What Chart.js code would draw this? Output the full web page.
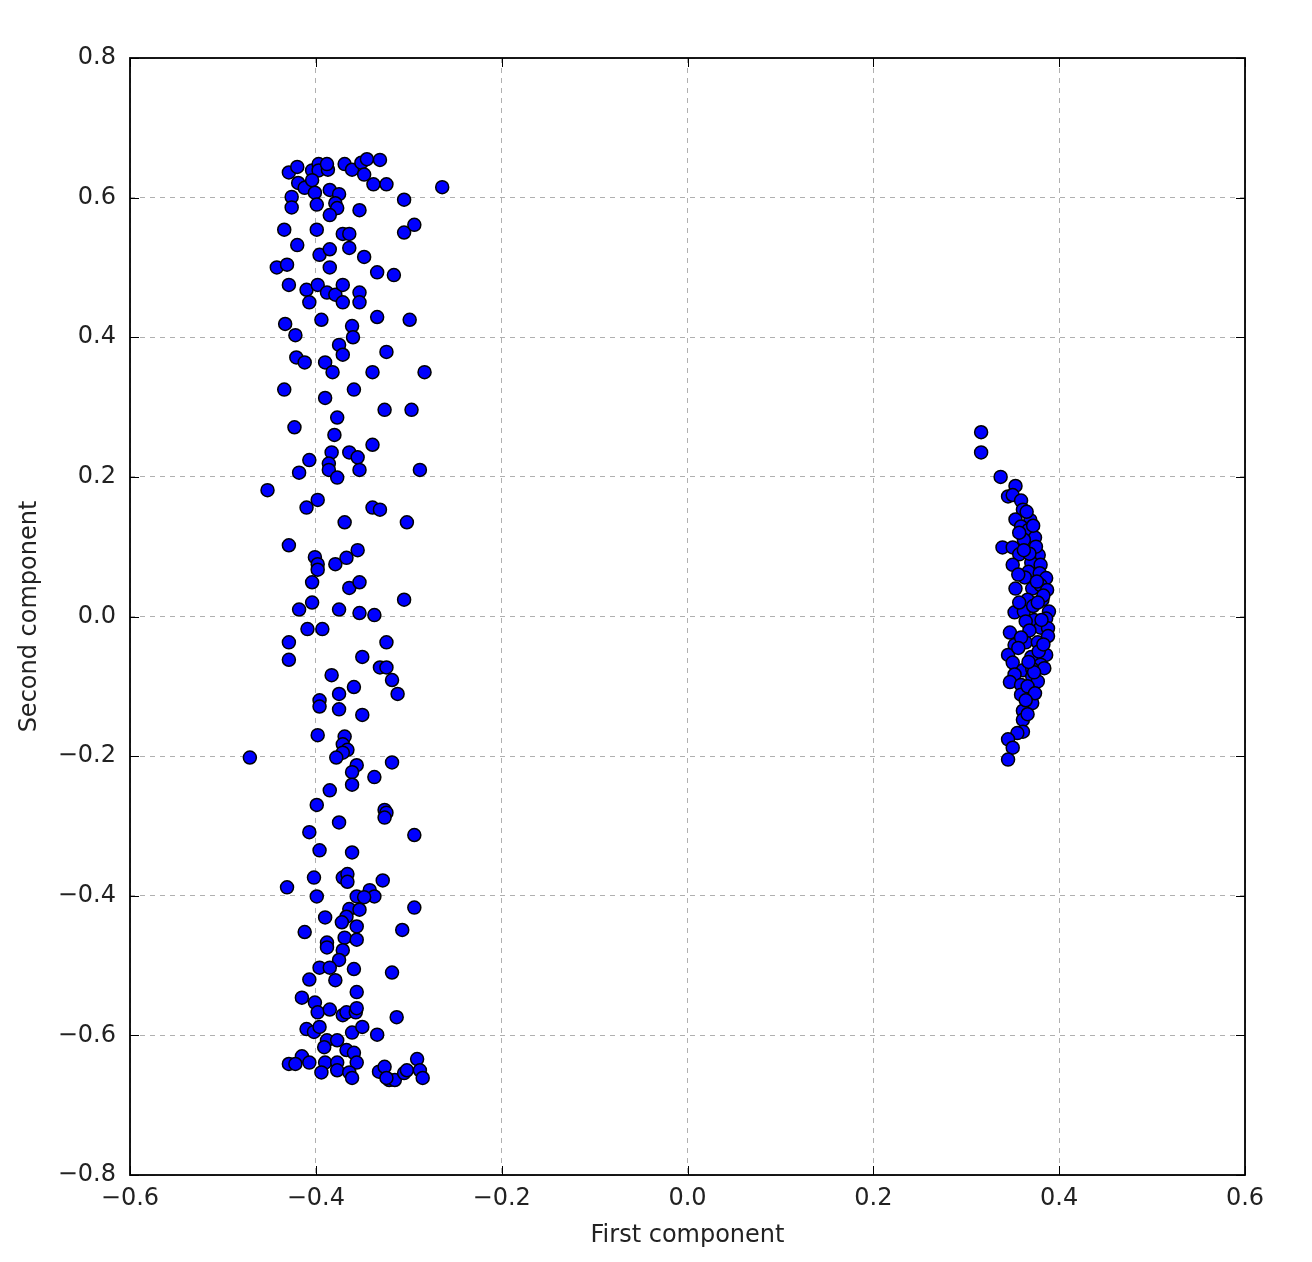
<!DOCTYPE html>
<html>
<head>
<meta charset="utf-8">
<script src="https://cdn.jsdelivr.net/npm/chart.js@4/dist/chart.umd.min.js"></script>
<style>
  html, body { margin: 0; padding: 0; background: #fff; }
  #wrap { width: 1312px; height: 1262px; }
</style>
</head>
<body>
<div id="wrap"><canvas id="c" width="1312" height="1262"></canvas></div>
<script>
// [first component, second component]
const leftCluster = [
  [-0.429,0.636],[-0.420,0.644],[-0.404,0.639],[-0.397,0.648],[-0.397,0.639],[-0.387,0.640],[-0.388,0.648],
  [-0.369,0.648],[-0.361,0.640],[-0.351,0.650],[-0.345,0.655],[-0.331,0.654],[-0.348,0.633],[-0.338,0.619],
  [-0.324,0.619],[-0.264,0.615],[-0.419,0.621],[-0.412,0.614],[-0.404,0.625],[-0.401,0.607],[-0.385,0.611],
  [-0.375,0.605],[-0.426,0.601],[-0.426,0.586],[-0.399,0.590],[-0.379,0.592],[-0.377,0.585],[-0.385,0.575],
  [-0.353,0.582],[-0.305,0.597],[-0.434,0.554],[-0.399,0.554],[-0.371,0.548],[-0.364,0.548],[-0.305,0.550],
  [-0.294,0.561],[-0.420,0.532],[-0.396,0.518],[-0.385,0.526],[-0.364,0.528],[-0.348,0.515],[-0.442,0.500],
  [-0.431,0.504],[-0.385,0.500],[-0.334,0.493],[-0.316,0.489],[-0.429,0.475],[-0.410,0.468],[-0.398,0.475],
  [-0.388,0.464],[-0.379,0.461],[-0.371,0.475],[-0.353,0.464],[-0.407,0.450],[-0.371,0.450],[-0.353,0.450],
  [-0.433,0.419],[-0.394,0.425],[-0.361,0.416],[-0.334,0.429],[-0.299,0.425],
  [-0.422,0.403],[-0.360,0.400],[-0.375,0.389],[-0.371,0.375],[-0.324,0.379],[-0.421,0.371],[-0.412,0.364],
  [-0.390,0.364],[-0.382,0.350],[-0.339,0.350],[-0.283,0.350],[-0.434,0.325],[-0.390,0.313],[-0.359,0.325],
  [-0.326,0.296],[-0.297,0.296],[-0.377,0.285],[-0.423,0.271],[-0.380,0.260],[-0.339,0.246],[-0.383,0.235],
  [-0.364,0.235],[-0.355,0.228],[-0.407,0.224],[-0.386,0.219],[-0.386,0.210],[-0.353,0.210],[-0.377,0.199],
  [-0.418,0.206],[-0.288,0.210],[-0.452,0.181],[-0.398,0.167],[-0.410,0.156],[-0.339,0.156],[-0.331,0.153],
  [-0.369,0.135],[-0.302,0.135],
  [-0.429,0.102],[-0.401,0.085],[-0.398,0.075],[-0.398,0.067],[-0.379,0.075],[-0.367,0.084],[-0.355,0.095],
  [-0.404,0.049],[-0.364,0.041],[-0.353,0.049],[-0.305,0.024],[-0.418,0.010],[-0.404,0.020],[-0.375,0.010],
  [-0.353,0.005],[-0.337,0.002],[-0.409,-0.018],[-0.393,-0.018],[-0.429,-0.037],[-0.429,-0.062],[-0.324,-0.037],
  [-0.350,-0.058],[-0.331,-0.073],[-0.324,-0.073],[-0.318,-0.091],[-0.383,-0.084],[-0.359,-0.101],[-0.375,-0.111],
  [-0.312,-0.111],[-0.396,-0.120],[-0.396,-0.129],[-0.375,-0.133],
  [-0.350,-0.141],[-0.398,-0.170],[-0.369,-0.172],[-0.371,-0.183],[-0.366,-0.191],[-0.371,-0.195],[-0.378,-0.202],
  [-0.471,-0.202],[-0.356,-0.213],[-0.361,-0.223],[-0.318,-0.209],[-0.337,-0.230],[-0.361,-0.241],[-0.385,-0.249],
  [-0.399,-0.270],[-0.326,-0.277],[-0.324,-0.281],[-0.326,-0.288],[-0.375,-0.295],[-0.294,-0.313],[-0.407,-0.309],
  [-0.396,-0.335],[-0.361,-0.338],[-0.402,-0.374],[-0.371,-0.374],[-0.366,-0.369],[-0.366,-0.380],[-0.328,-0.378],
  [-0.431,-0.388],[-0.399,-0.401],[-0.356,-0.401],[-0.342,-0.392],[-0.337,-0.401],
  [-0.348,-0.402],[-0.294,-0.417],[-0.364,-0.419],[-0.353,-0.420],[-0.390,-0.431],[-0.367,-0.430],[-0.372,-0.438],
  [-0.356,-0.444],[-0.412,-0.452],[-0.307,-0.449],[-0.369,-0.460],[-0.356,-0.463],[-0.388,-0.467],[-0.388,-0.474],
  [-0.371,-0.478],[-0.375,-0.492],[-0.396,-0.503],[-0.385,-0.503],[-0.359,-0.505],[-0.318,-0.510],[-0.407,-0.520],
  [-0.379,-0.521],[-0.356,-0.538],[-0.415,-0.546],[-0.401,-0.553],[-0.398,-0.567],[-0.385,-0.563],[-0.371,-0.571],
  [-0.367,-0.567],[-0.357,-0.567],[-0.356,-0.561],[-0.313,-0.574],[-0.410,-0.591],[-0.402,-0.595],[-0.396,-0.588],
  [-0.361,-0.596],[-0.350,-0.588],[-0.334,-0.599],[-0.388,-0.607],[-0.377,-0.607],[-0.391,-0.617],[-0.367,-0.621],
  [-0.359,-0.625],[-0.415,-0.630],[-0.429,-0.641],[-0.422,-0.641],[-0.407,-0.639],[-0.390,-0.639],[-0.377,-0.639],
  [-0.356,-0.639],[-0.394,-0.653],[-0.377,-0.650],[-0.364,-0.653],[-0.361,-0.661],[-0.332,-0.652],[-0.326,-0.645],
  [-0.321,-0.664],[-0.315,-0.664],[-0.324,-0.661],[-0.305,-0.654],[-0.302,-0.650],[-0.291,-0.634],[-0.288,-0.650],
  [-0.285,-0.661]
];
const rightCluster = [
  [0.316,0.264],[0.316,0.235],[0.337,0.200],[0.353,0.187],[0.345,0.172],[0.350,0.174],[0.359,0.166],
  [0.361,0.153],[0.353,0.139],[0.369,0.138],[0.359,0.129],[0.367,0.124],[0.374,0.113],[0.362,0.110],
  [0.339,0.099],[0.350,0.099],[0.357,0.089],[0.378,0.088],[0.350,0.074],[0.370,0.077],[0.380,0.074],
  [0.367,0.064],[0.379,0.062],[0.386,0.055],[0.363,0.056],[0.353,0.040],[0.371,0.040],[0.380,0.045],
  [0.387,0.038],[0.366,0.024],[0.382,0.024],[0.352,0.006],[0.362,0.007],[0.389,0.007],[0.373,-0.005],
  [0.364,-0.007],[0.386,-0.003],[0.347,-0.023],[0.380,-0.016],[0.388,-0.017],[0.364,-0.037],[0.377,-0.037],
  [0.388,-0.028],[0.352,-0.041],[0.345,-0.055],[0.370,-0.058],[0.386,-0.055],[0.350,-0.066],[0.380,-0.069],
  [0.361,-0.077],[0.371,-0.075],[0.384,-0.074],[0.352,-0.083],[0.371,-0.086],[0.347,-0.094],[0.359,-0.098],
  [0.377,-0.093],[0.370,-0.110],[0.359,-0.112],[0.371,-0.124],[0.361,-0.135],[0.361,-0.148],[0.361,-0.165],
  [0.355,-0.167],[0.345,-0.176],[0.350,-0.188],[0.345,-0.205],
  [0.375,0.100],[0.372,0.130],[0.383,0.030],[0.376,0.050],[0.368,-0.020],[0.378,-0.050],[0.366,-0.100],
  [0.374,-0.110],[0.366,-0.140],[0.357,0.120],[0.365,0.150],[0.383,-0.040],[0.359,-0.030],[0.357,0.020],
  [0.368,0.090],[0.373,-0.080],[0.356,0.060],[0.372,0.015],[0.381,-0.005],[0.367,-0.065],[0.364,-0.120],
  [0.377,0.020],[0.362,0.095],[0.356,-0.045]
];
const xTicks = [-0.6, -0.4, -0.2, 0.0, 0.2, 0.4, 0.6];
const yTicks = [-0.8, -0.6, -0.4, -0.2, 0.0, 0.2, 0.4, 0.6, 0.8];
const xTitle = 'First component';
const yTitle = 'Second component';

const points = leftCluster.concat(rightCluster).map(p => ({ x: p[0], y: p[1] }));
const fmt = v => (Math.abs(v) < 1e-9 ? '0.0' : v.toFixed(1).replace('-', '\u2212'));
const FONT = 'DejaVu Sans';

const frameAndTicks = {
  id: 'frameAndTicks',
  afterDatasetsDraw(chart) {
    const { ctx, chartArea: a, scales } = chart;
    ctx.save();
    ctx.strokeStyle = '#000';
    ctx.lineWidth = 1;
    const L = 9;
    xTicks.forEach(v => {
      const px = Math.round(scales.x.getPixelForValue(v)) + 0.5;
      ctx.beginPath();
      ctx.moveTo(px, a.bottom); ctx.lineTo(px, a.bottom - L);
      ctx.moveTo(px, a.top); ctx.lineTo(px, a.top + L);
      ctx.stroke();
    });
    yTicks.forEach(v => {
      const py = Math.round(scales.y.getPixelForValue(v)) + 0.5;
      ctx.beginPath();
      ctx.moveTo(a.left, py); ctx.lineTo(a.left + L, py);
      ctx.moveTo(a.right, py); ctx.lineTo(a.right - L, py);
      ctx.stroke();
    });
    ctx.lineWidth = 1.8;
    ctx.strokeRect(a.left, a.top, a.right - a.left, a.bottom - a.top);
    ctx.restore();
  }
};

new Chart(document.getElementById('c'), {
  type: 'scatter',
  data: {
    datasets: [{
      data: points,
      backgroundColor: '#0000ff',
      borderColor: '#000000',
      borderWidth: 1.5,
      pointRadius: 6.5,
      pointHoverRadius: 6.5
    }]
  },
  options: {
    responsive: false,
    animation: false,
    events: [],
    layout: { padding: { left: 0, right: 67, top: 58, bottom: 0 } },
    plugins: { legend: { display: false }, tooltip: { enabled: false } },
    scales: {
      x: {
        type: 'linear', min: -0.6, max: 0.6,
        afterBuildTicks: s => { s.ticks = xTicks.map(v => ({ value: v })); },
        afterFit: s => { s.height = 87; },
        grid: { color: '#b0b0b0', lineWidth: 1, drawTicks: false },
        border: { display: false, dash: [5, 5] },
        ticks: { color: '#222', font: { family: FONT, size: 24 }, padding: 9, maxRotation: 0, autoSkip: false, callback: v => fmt(v) },
        title: { display: true, text: xTitle, color: '#222', font: { family: FONT, size: 24 }, padding: { top: 0, bottom: 12 } }
      },
      y: {
        type: 'linear', min: -0.8, max: 0.8,
        afterBuildTicks: s => { s.ticks = yTicks.map(v => ({ value: v })); },
        afterFit: s => { s.width = 130; },
        grid: { color: '#b0b0b0', lineWidth: 1, drawTicks: false },
        border: { display: false, dash: [5, 5] },
        ticks: { color: '#222', font: { family: FONT, size: 24 }, padding: 14, autoSkip: false, callback: v => fmt(v) },
        title: { display: true, text: yTitle, color: '#222', font: { family: FONT, size: 24 }, padding: { top: 15, bottom: 0 } }
      }
    }
  },
  plugins: [frameAndTicks]
});
</script>
</body>
</html>
